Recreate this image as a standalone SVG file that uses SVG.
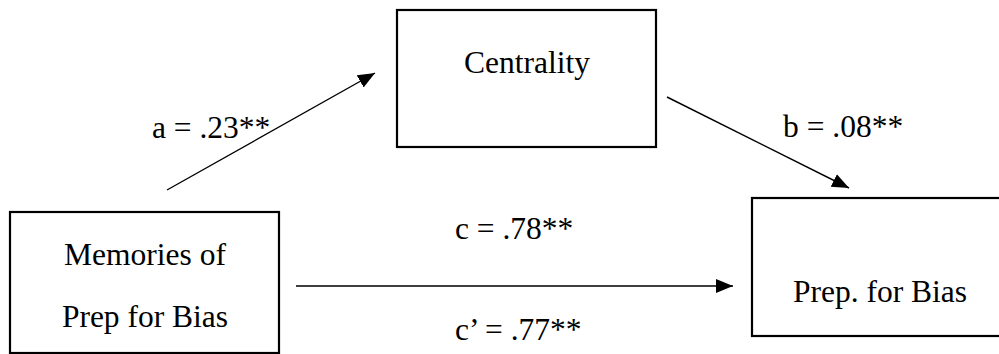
<svg xmlns="http://www.w3.org/2000/svg" width="999" height="354" viewBox="0 0 999 354">
<style>
.box{fill:#fff;stroke:#000;stroke-width:2.2}
.lbl{font-family:"Liberation Serif","Times New Roman",serif;font-size:31.5px;fill:#000}
.mid{text-anchor:middle}
.conn{stroke:#000;stroke-width:1.4;fill:none;marker-end:url(#ah)}
</style>
<defs>
<marker id="ah" markerUnits="userSpaceOnUse" markerWidth="18" markerHeight="15" refX="17" refY="7" orient="auto">
<path d="M0,0 L17,7 L0,14 z" fill="#000"/>
</marker>
</defs>
<rect width="999" height="354" fill="#fff"/>
<g id="connectors">
<line class="conn" x1="167" y1="190" x2="375" y2="73"/>
<line class="conn" x1="667" y1="97" x2="849" y2="188"/>
<line class="conn" x1="296" y1="286" x2="733" y2="286"/>
<text class="lbl" x="152" y="138">a = .23**</text>
<text class="lbl" x="783" y="137">b = .08**</text>
<text class="lbl" x="455" y="239">c = .78**</text>
<text class="lbl" x="455" y="340">c’ = .77**</text>
</g>
<g id="centrality">
<rect class="box" x="397" y="10" width="259" height="137"/>
<text class="lbl mid" x="527" y="73">Centrality</text>
</g>
<g id="memories">
<rect class="box" x="10" y="212" width="269" height="141"/>
<text class="lbl mid" x="145" y="265">Memories of</text>
<text class="lbl mid" x="145" y="327">Prep for Bias</text>
</g>
<g id="prep">
<rect class="box" x="752" y="198" width="260" height="138"/>
<text class="lbl mid" x="880" y="302">Prep. for Bias</text>
</g>
</svg>
